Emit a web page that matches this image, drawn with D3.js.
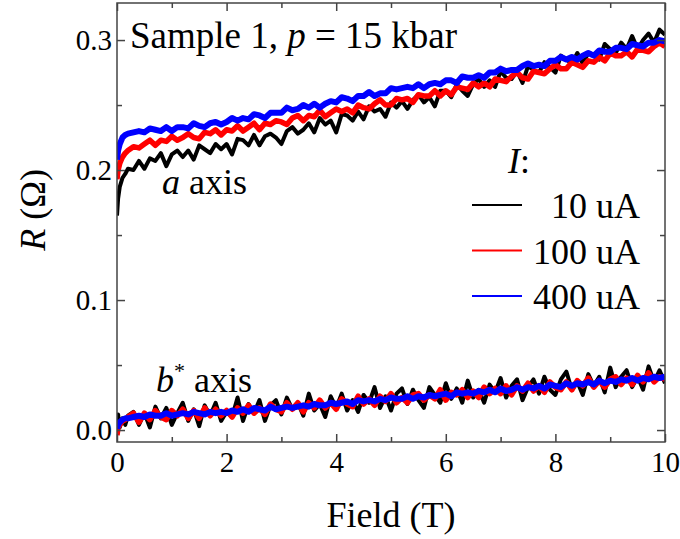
<!DOCTYPE html>
<html>
<head>
<meta charset="utf-8">
<script src="https://cdn.jsdelivr.net/npm/d3@7"></script>
<style>
  body { margin: 0; background: #fff; }
  svg text { font-family: "Liberation Serif", Tinos, "Times New Roman", Times, serif !important; fill: #000; }
</style>
</head>
<body>
<script>
// field sweep (T), shared by every trace
const field = [0, 0.02, 0.05, 0.1, 0.15, 0.2,
  0.3, 0.4, 0.5, 0.6, 0.7, 0.8, 0.9, 1.0, 1.1, 1.2,
  1.3, 1.4, 1.5, 1.6, 1.7, 1.8, 1.9, 2.0, 2.1, 2.2,
  2.3, 2.4, 2.5, 2.6, 2.7, 2.8, 2.9, 3.0, 3.1, 3.2,
  3.3, 3.4, 3.5, 3.6, 3.7, 3.8, 3.9, 4.0, 4.1, 4.2,
  4.3, 4.4, 4.5, 4.6, 4.7, 4.8, 4.9, 5.0, 5.1, 5.2,
  5.3, 5.4, 5.5, 5.6, 5.7, 5.8, 5.9, 6.0, 6.1, 6.2,
  6.3, 6.4, 6.5, 6.6, 6.7, 6.8, 6.9, 7.0, 7.1, 7.2,
  7.3, 7.4, 7.5, 7.6, 7.7, 7.8, 7.9, 8.0, 8.1, 8.2,
  8.3, 8.4, 8.5, 8.6, 8.7, 8.8, 8.9, 9.0, 9.1, 9.2,
  9.3, 9.4, 9.5, 9.6, 9.7, 9.8, 9.9, 10.0];

// resistance in mOhm, a axis
const a10uA = [165, 178, 187, 194, 197, 201,
  200, 207, 201, 209, 207, 213, 203, 212, 215, 210,
  215, 208, 219, 216, 213, 220, 216, 220, 212, 224,
  223, 219, 227, 219, 226, 228, 225, 220, 230, 233,
  228, 231, 236, 229, 240, 235, 238, 229, 243, 242,
  238, 245, 239, 249, 245, 247, 241, 252, 248, 253,
  247, 254, 258, 252, 256, 249, 261, 261, 256, 266,
  261, 257, 266, 270, 264, 269, 264, 276, 271, 270,
  276, 267, 280, 277, 275, 283, 279, 275, 288, 285,
  282, 290, 282, 290, 289, 285, 297, 293, 290, 298,
  293, 303, 293, 300, 305, 298, 308, 304];
const a100uA = [193, 200, 205, 210, 213, 215,
  218, 217, 220, 223, 219, 223, 222, 226, 223, 225,
  228, 225, 224, 229, 228, 231, 227, 231, 230, 234,
  230, 233, 236, 231, 236, 235, 238, 237, 235, 240,
  242, 238, 242, 241, 246, 241, 244, 247, 245, 247,
  244, 250, 248, 247, 251, 254, 250, 250, 255, 254,
  255, 252, 258, 257, 257, 261, 257, 261, 258, 264,
  263, 262, 267, 264, 267, 264, 270, 269, 268, 272,
  275, 271, 270, 276, 275, 274, 278, 281, 278, 278,
  283, 281, 279, 284, 283, 287, 284, 290, 288, 288,
  291, 287, 293, 292, 291, 295, 298, 295];
const a400uA = [208, 215, 220, 225, 227, 228,
  229, 230, 229, 232, 231, 230, 233, 230, 233, 233,
  232, 236, 234, 233, 236, 237, 235, 237, 240, 238,
  240, 239, 243, 242, 240, 244, 244, 244, 248, 246,
  247, 250, 248, 251, 248, 251, 253, 252, 256, 255,
  253, 257, 257, 260, 257, 259, 259, 263, 262, 263,
  264, 263, 266, 263, 266, 267, 266, 269, 269, 267,
  272, 271, 271, 273, 271, 275, 275, 278, 276, 277,
  277, 280, 282, 280, 281, 280, 284, 284, 287, 285,
  287, 285, 288, 290, 288, 292, 291, 291, 294, 294,
  293, 297, 296, 295, 298, 298, 300, 299];

// resistance in mOhm, b* axis
const b10uA = [-2, 12, 2, 9, 4, 11,
  14, 4, 13, 2, 18, 9, 17, 4, 13, 21,
  7, 16, 3, 19, 11, 21, 7, 14, 10, 25,
  7, 20, 13, 23, 7, 19, 23, 12, 25, 16,
  21, 11, 28, 15, 20, 10, 26, 17, 28, 15,
  23, 14, 27, 21, 33, 17, 26, 15, 28, 32,
  20, 31, 23, 17, 33, 27, 21, 36, 24, 32,
  21, 38, 25, 31, 21, 35, 29, 40, 25, 34,
  39, 23, 33, 39, 28, 41, 31, 27, 39, 45,
  31, 37, 27, 43, 34, 41, 29, 48, 33, 41,
  46, 33, 41, 31, 49, 37, 46, 36];
const b100uA = [-4, 2, 4, 7, 8, 10,
  13, 6, 13, 8, 15, 10, 8, 15, 11, 16,
  9, 15, 9, 17, 11, 16, 11, 15, 10, 17,
  13, 19, 13, 17, 12, 20, 16, 14, 21, 16,
  21, 14, 21, 17, 23, 17, 21, 16, 24, 20,
  18, 26, 20, 24, 19, 26, 22, 28, 21, 25,
  21, 27, 28, 23, 27, 24, 31, 23, 29, 27,
  31, 25, 30, 25, 33, 28, 32, 28, 34, 27,
  34, 30, 36, 30, 34, 29, 37, 33, 31, 37,
  31, 38, 34, 40, 33, 38, 33, 39, 41, 35,
  40, 35, 42, 37, 44, 37, 41, 39];
const b400uA = [1, 4, 6, 8, 9, 9,
  10, 11, 10, 12, 11, 11, 13, 11, 12, 13,
  12, 14, 13, 12, 14, 13, 14, 13, 15, 14,
  16, 14, 17, 16, 15, 18, 16, 17, 18, 17,
  18, 19, 18, 20, 19, 19, 21, 20, 21, 22,
  20, 23, 22, 23, 22, 24, 23, 25, 24, 24,
  26, 24, 26, 25, 27, 26, 27, 28, 26, 29,
  28, 29, 28, 30, 29, 31, 29, 32, 30, 31,
  33, 31, 33, 32, 34, 32, 35, 34, 33, 36,
  34, 36, 35, 37, 35, 38, 36, 38, 37, 39,
  38, 40, 38, 40, 39, 41, 40, 41];

const legendLabels = ["10 uA", "100 uA", "400 uA"];
const colors = ["#000000", "#ff0000", "#0000ff"];
const traceWidths = [4, 5.5, 6];
const xMajor = [0, 2, 4, 6, 8, 10];
const xMinor = [1, 3, 5, 7, 9];
const yMajor = [0, 100, 200, 300];
const yMinor = [50, 150, 250];

const traces = [
  {vals: a10uA, c: 0}, {vals: b10uA, c: 0},
  {vals: a100uA, c: 1}, {vals: b100uA, c: 1},
  {vals: a400uA, c: 2}, {vals: b400uA, c: 2}
];

const margin = {top: 3, right: 15, bottom: 97, left: 117},
    width = 680 - margin.left - margin.right,
    height = 539 - margin.top - margin.bottom;

const svg = d3.select("body")
  .append("svg")
    .attr("width", 680)
    .attr("height", 539)
  .append("g")
    .attr("transform", `translate(${margin.left},${margin.top})`);

const x = d3.scaleLinear().domain([0, 10]).range([0, width]);
const y = d3.scaleLinear().domain([-9.2, 328.5]).range([height, 0]);

svg.append("clipPath").attr("id", "clip")
  .append("rect").attr("width", width).attr("height", height);

const line = d3.line()
  .x((d, i) => x(field[i]))
  .y(d => y(d));

svg.append("g").attr("clip-path", "url(#clip)")
  .selectAll("path")
  .data(traces)
  .join("path")
    .attr("fill", "none")
    .attr("stroke", d => colors[d.c])
    .attr("stroke-width", d => traceWidths[d.c])
    .attr("stroke-linejoin", "round")
    .attr("d", d => line(d.vals));

// axes, ticks pointing inward
const axisStyle = g => {
  g.attr("font-family", null);
  g.select(".domain").remove();
  g.selectAll("line").attr("stroke", "#444").attr("stroke-width", 1.5);
  g.selectAll("text").attr("font-size", 29);
};

svg.append("g").attr("transform", `translate(0,${height})`)
  .call(d3.axisBottom(x).tickValues(xMajor).tickSizeInner(-8).tickSizeOuter(0).tickPadding(9).tickFormat(d3.format("d")))
  .call(axisStyle);
svg.append("g").attr("transform", `translate(0,${height})`)
  .call(d3.axisBottom(x).tickValues(xMinor).tickSizeInner(-5).tickSizeOuter(0).tickFormat(""))
  .call(axisStyle);
svg.append("g")
  .call(d3.axisTop(x).tickValues(xMajor).tickSizeInner(-8).tickSizeOuter(0).tickFormat(""))
  .call(axisStyle);
svg.append("g")
  .call(d3.axisTop(x).tickValues(xMinor).tickSizeInner(-5).tickSizeOuter(0).tickFormat(""))
  .call(axisStyle);

svg.append("g")
  .call(d3.axisLeft(y).tickValues(yMajor).tickSizeInner(-8).tickSizeOuter(0).tickPadding(5).tickFormat(d => (d / 1000).toFixed(1)))
  .call(axisStyle);
svg.append("g")
  .call(d3.axisLeft(y).tickValues(yMinor).tickSizeInner(-5).tickSizeOuter(0).tickFormat(""))
  .call(axisStyle);
svg.append("g").attr("transform", `translate(${width},0)`)
  .call(d3.axisRight(y).tickValues(yMajor).tickSizeInner(-8).tickSizeOuter(0).tickFormat(""))
  .call(axisStyle);
svg.append("g").attr("transform", `translate(${width},0)`)
  .call(d3.axisRight(y).tickValues(yMinor).tickSizeInner(-5).tickSizeOuter(0).tickFormat(""))
  .call(axisStyle);

svg.append("rect")
  .attr("width", width).attr("height", height)
  .attr("fill", "none").attr("stroke", "#444").attr("stroke-width", 1.5);

// axis titles
svg.append("text")
  .attr("x", width / 2).attr("y", 527 - margin.top)
  .attr("text-anchor", "middle").attr("font-size", 36)
  .text("Field (T)");

const yl = svg.append("text")
  .attr("transform", `translate(${45 - margin.left},${210 - margin.top}) rotate(-90)`)
  .attr("text-anchor", "middle").attr("font-size", 36);
yl.append("tspan").attr("font-style", "italic").text("R");
yl.append("tspan").text(" (Ω)");

// annotations
const title = svg.append("text")
  .attr("x", 130 - margin.left).attr("y", 48 - margin.top).attr("font-size", 37);
title.append("tspan").text("Sample 1, ");
title.append("tspan").attr("font-style", "italic").text("p");
title.append("tspan").text(" = 15 kbar");

const aLab = svg.append("text")
  .attr("x", 162 - margin.left).attr("y", 194 - margin.top).attr("font-size", 36);
aLab.append("tspan").attr("font-style", "italic").text("a");
aLab.append("tspan").text(" axis");

const bLab = svg.append("text")
  .attr("x", 156 - margin.left).attr("y", 392 - margin.top).attr("font-size", 36);
bLab.append("tspan").attr("font-style", "italic").text("b");
bLab.append("tspan").attr("font-size", 22).attr("dy", -14).text("*");
bLab.append("tspan").attr("dy", 14).text(" axis");

// legend
const legX = 472 - margin.left, legLen = 50;
const iLab = svg.append("text")
  .attr("x", 508 - margin.left).attr("y", 173 - margin.top).attr("font-size", 36);
iLab.append("tspan").attr("font-style", "italic").text("I");
iLab.append("tspan").text(":");

const leg = svg.append("g").selectAll("g")
  .data(legendLabels)
  .join("g")
    .attr("transform", (d, i) => `translate(${legX},${205 + i * 45.5 - margin.top})`);
leg.append("line")
  .attr("x2", legLen)
  .attr("stroke", (d, i) => colors[i]).attr("stroke-width", 2);
leg.append("text")
  .attr("x", 640 - 472).attr("y", 13)
  .attr("text-anchor", "end").attr("font-size", 36)
  .text(d => d);
</script>
</body>
</html>
